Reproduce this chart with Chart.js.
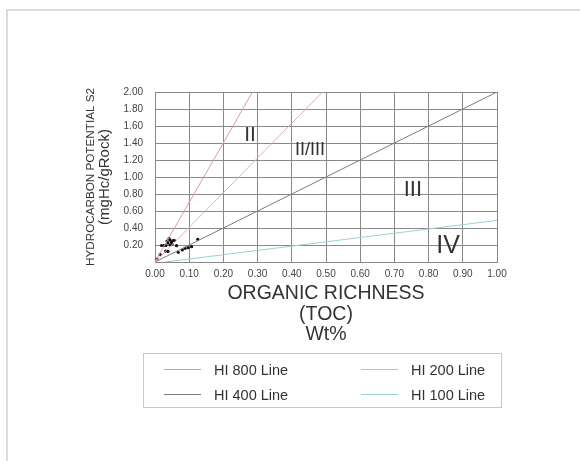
<!DOCTYPE html>
<html>
<head>
<meta charset="utf-8">
<script src="https://cdn.jsdelivr.net/npm/chart.js@4"></script>
<style>
  body { margin: 0; background: #fff; font-family: "Liberation Sans", Arial, sans-serif; }
  #wrap { position: relative; width: 580px; height: 461px; }
  #frame { position: absolute; left: 6px; top: 9px; right: 0; bottom: 0; border-top: 2px solid #dcdcdc; border-left: 2px solid #dcdcdc; }
  #legend { position: absolute; left: 143px; top: 353px; width: 359px; height: 55px; border: 1px solid #c8c8c8;
            display: grid; grid-template-columns: 197px 1fr; padding: 3px 0 0 20px; box-sizing: border-box; }
  .item { display: flex; align-items: center; height: 25px; font-size: 14.5px; color: #333; }
  .swatch { width: 37px; height: 0; border-top: 1px solid; margin-right: 13px; }
</style>
</head>
<body>
<div id="wrap">
  <div id="frame"></div>
  <canvas id="hiChart" width="580" height="461"></canvas>
  <div id="legend"></div>
</div>
<script>
// samples
const sampleToc = [0.006, 0.015, 0.019, 0.026, 0.032, 0.031, 0.038, 0.038, 0.044, 0.048, 0.053, 0.050, 0.044,
                   0.057, 0.063, 0.068, 0.080, 0.088, 0.097, 0.107, 0.125, 0.035, 0.041];
const sampleS2 = [0.035, 0.088, 0.194, 0.194, 0.194, 0.129, 0.124, 0.224, 0.259, 0.235, 0.253, 0.212, 0.200,
                  0.253, 0.192, 0.114, 0.141, 0.161, 0.168, 0.180, 0.267, 0.247, 0.276];

// HI lines (start / end points)
const lineLabels = ['HI 800 Line', 'HI 200 Line', 'HI 400 Line', 'HI 100 Line'];
const lineToc = [[0, 0.285], [0, 0.49], [0, 1.0], [0.03, 1.0]];
const lineS2 = [[0, 2.0], [0, 2.0], [0, 2.0], [0, 0.49]];
const lineColors = ['#df98a4', '#d4b6be', '#7c7c7c', '#9ccfd9'];

// kerogen type zones
const zoneLabels = ['II', 'II/III', 'III', 'IV'];
const zoneToc = [0.278, 0.453, 0.754, 0.857];
const zoneS2 = [1.49, 1.32, 0.85, 0.19];
const zoneFont = [21, 18, 22, 25];

const xTitle = ['ORGANIC RICHNESS', '(TOC)', 'Wt%'];
const yTitle = ['HYDROCARBON POTENTIAL S2', '(mgHc/gRock)'];

const FONT = '"Liberation Sans", Arial, sans-serif';

const datasets = lineLabels.map((label, i) => ({
    type: 'line',
    label: label,
    data: lineToc[i].map((x, j) => ({ x: x, y: lineS2[i][j] })),
    borderColor: lineColors[i],
    borderWidth: 1,
    pointRadius: 0,
    fill: false,
}));

datasets.push({
    type: 'scatter',
    label: 'Samples',
    data: sampleToc.map((x, i) => ({ x: x, y: sampleS2[i] })),
    backgroundColor: '#111',
    borderColor: '#111',
    borderWidth: 0,
    pointRadius: 1.6,
});

const textPlugin = {
    id: 'texts',
    afterDatasetsDraw(chart) {
        const { ctx, chartArea, scales } = chart;
        ctx.save();
        ctx.fillStyle = '#333';
        ctx.textAlign = 'center';
        ctx.textBaseline = 'middle';

        zoneLabels.forEach((t, i) => {
            ctx.font = zoneFont[i] + 'px ' + FONT;
            ctx.fillText(t, scales.x.getPixelForValue(zoneToc[i]), scales.y.getPixelForValue(zoneS2[i]));
        });

        const cx = (chartArea.left + chartArea.right) / 2;
        ctx.font = '19.5px ' + FONT;
        xTitle.forEach((t, i) => ctx.fillText(t, cx, 294 + i * 20.5));

        const cy = (chartArea.top + chartArea.bottom) / 2;
        ctx.translate(0, cy);
        ctx.rotate(-Math.PI / 2);
        ctx.font = '11.7px ' + FONT;
        ctx.fillText(yTitle[0], 0, 91);
        ctx.font = '15px ' + FONT;
        ctx.fillText(yTitle[1], 0, 105);
        ctx.restore();
    }
};

const chart = new Chart(document.getElementById('hiChart'), {
    data: { datasets: datasets },
    options: {
        responsive: false,
        animation: false,
        layout: { padding: { left: 0, right: 83, top: 92, bottom: 0 } },
        plugins: { legend: { display: false }, tooltip: { enabled: false } },
        scales: {
            x: {
                type: 'linear', min: 0, max: 1,
                afterFit: (s) => { s.height = 199; },
                grid: { color: '#888', drawTicks: false },
                border: { color: '#888' },
                ticks: { stepSize: 0.1, padding: 6, color: '#444', font: { size: 10, family: FONT },
                         callback: (v) => v.toFixed(2) }
            },
            y: {
                type: 'linear', min: 0, max: 2,
                afterFit: (s) => { s.width = 155; },
                grid: { color: '#888', drawTicks: false },
                border: { color: '#888' },
                ticks: { stepSize: 0.2, padding: 12, color: '#444', font: { size: 10, family: FONT },
                         callback: (v) => (v === 0 ? '' : v.toFixed(2)) }
            }
        }
    },
    plugins: [textPlugin]
});

// legend box
const legend = document.getElementById('legend');
chart.data.datasets.filter((d) => d.type === 'line').forEach((d) => {
    const item = document.createElement('div');
    item.className = 'item';
    const sw = document.createElement('span');
    sw.className = 'swatch';
    sw.style.borderColor = d.borderColor;
    item.appendChild(sw);
    item.appendChild(document.createTextNode(d.label));
    legend.appendChild(item);
});
</script>
</body>
</html>
